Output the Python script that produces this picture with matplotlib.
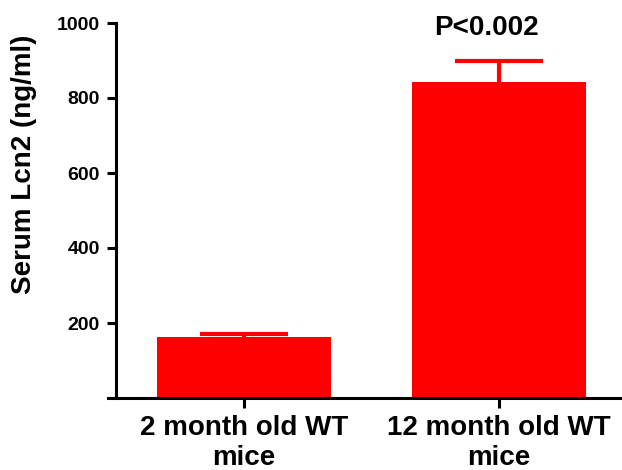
import matplotlib
matplotlib.use("Agg")
import matplotlib.pyplot as plt

categories = ["2 month old WT\nmice", "12 month old WT\nmice"]
values = [163, 843]
errors = [8, 55]
yticks = [200, 400, 600, 800, 1000]
annotation = "P<0.002"

plt.rcParams['font.family'] = ['Liberation Sans', 'DejaVu Sans']
plt.rcParams['font.weight'] = 'bold'

fig = plt.figure(figsize=(6.22, 4.70), dpi=100)
ax = fig.add_axes([108/622, 1-398/470, 1-108/622, (398-23)/470])

for s in ['top', 'right']:
    ax.spines[s].set_visible(False)
ax.spines['left'].set_position(('data', -0.5))
ax.spines['left'].set_linewidth(2.2)
ax.spines['bottom'].set_linewidth(2.2)

x = list(range(len(categories)))
ax.bar(x, values, width=0.68, color='#FF0000', zorder=2)
_, caps, _ = ax.errorbar(x, values, yerr=[[0]*len(errors), errors], fmt='none',
                         ecolor='#FF0000', elinewidth=3, capsize=32, capthick=3, zorder=3)
caps[0].set_visible(False)

ax.set_xlim(-0.533, 1.482)
ax.set_ylim(0, 1000)
ax.set_yticks(yticks)
ax.set_yticklabels([str(v) for v in yticks])
ax.set_xticks(x)
ax.set_xticklabels(categories, linespacing=1.2)
ax.set_ylabel("Serum Lcn2 (ng/ml)", fontsize=20, fontweight='bold')
ax.yaxis.set_label_coords(-0.139, 0.624)

ax.tick_params(axis='y', length=6.5, width=2.2, direction='out', pad=5.5, labelsize=14)
ax.tick_params(axis='x', length=7, width=2.2, direction='out', pad=5, labelsize=20)

ax.text(0.95, 987, annotation, fontsize=20, fontweight='bold', ha='center', va='center')

fig.savefig("out.png", dpi=100)
